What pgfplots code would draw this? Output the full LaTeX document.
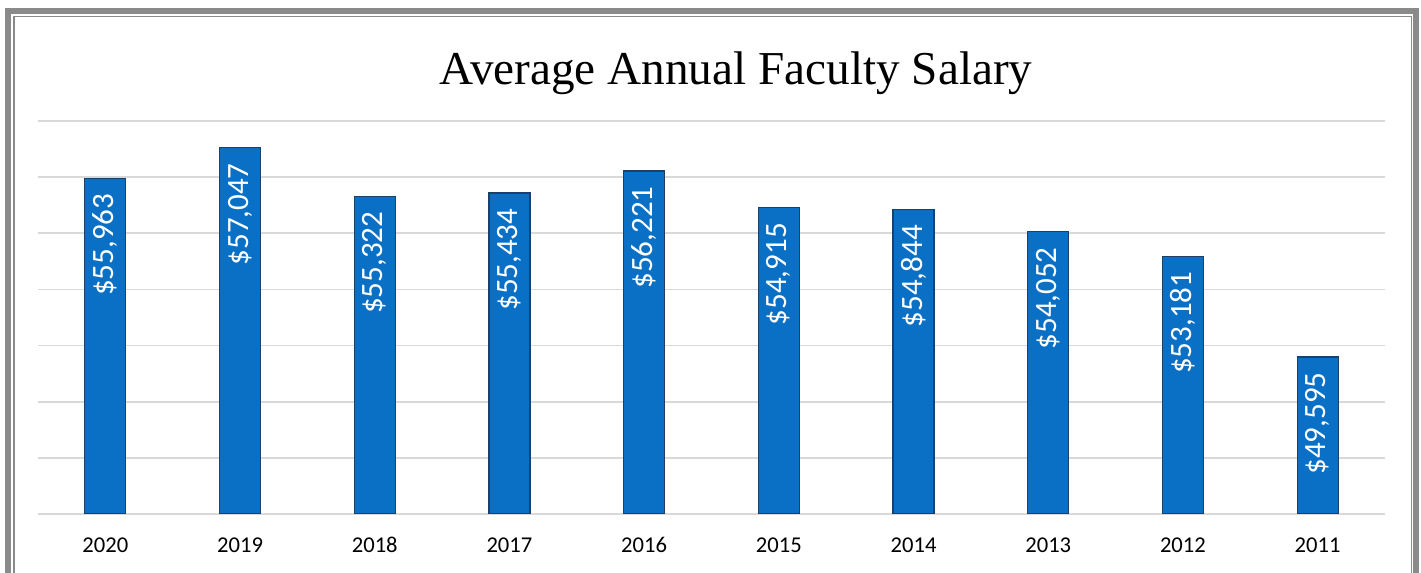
\documentclass[border=0pt]{standalone}
\usepackage{pgfplots}
\pgfplotsset{compat=1.18}
\usepackage{fontspec}
\setmainfont{Carlito}
\newfontfamily\titlefont{Liberation Serif}
\definecolor{barblue}{HTML}{0A70C6}
\definecolor{baredge}{HTML}{1F3F66}
\definecolor{gridgray}{HTML}{D9D9D9}
\definecolor{framegray}{HTML}{8A8A8A}

\begin{document}
\begin{tikzpicture}
\useasboundingbox (0,0) rectangle (710.5pt,286.5pt);
% frame
\draw[framegray, line width=3pt] (4pt,-10pt) -- (4pt,281pt) -- (708pt,281pt) -- (708pt,-10pt);
\draw[framegray, line width=0.8pt] (6.9pt,-10pt) -- (6.9pt,278.3pt) -- (705.7pt,278.3pt) -- (705.7pt,-10pt);
\node[font=\titlefont\fontsize{23.6pt}{28pt}\selectfont] at (368pt,250pt) {Average Annual Faculty Salary};
\begin{axis}[
  at={(19pt,29.5pt)}, anchor=south west,
  scale only axis,
  width=673.5pt, height=196.5pt,
  ybar, bar width=20.5pt,
  xmin=-0.5, xmax=9.5,
  ymin=44000, ymax=58000,
  xtick=data,
  xticklabels={2020,2019,2018,2017,2016,2015,2014,2013,2012,2011},
  xticklabel style={font=\fontsize{11.3pt}{13pt}\selectfont, text height=7.5pt, text depth=0pt, yshift=-8pt},
  ytick={44000,46000,...,58000},
  yticklabels={},
  scaled y ticks=false,
  major tick length=0pt,
  ymajorgrids,
  grid style={gridgray, line width=0.9pt},
  axis line style={draw=none},
  /pgf/number format/assume math mode=true,
  nodes near coords={\$\pgfmathprintnumber[fixed, precision=0, 1000 sep={,}]{\pgfplotspointmeta}},
  every node near coord/.append style={rotate=90, anchor=east, white,
    font=\fontsize{15.5pt}{18pt}\selectfont, inner xsep=7.5pt, inner ysep=0pt},
]
\addplot[fill=barblue, draw=baredge, line width=0.6pt] coordinates {
  (0,55963) (1,57047) (2,55322) (3,55434) (4,56221)
  (5,54915) (6,54844) (7,54052) (8,53181) (9,49595)
};
\end{axis}
\end{tikzpicture}
\end{document}
